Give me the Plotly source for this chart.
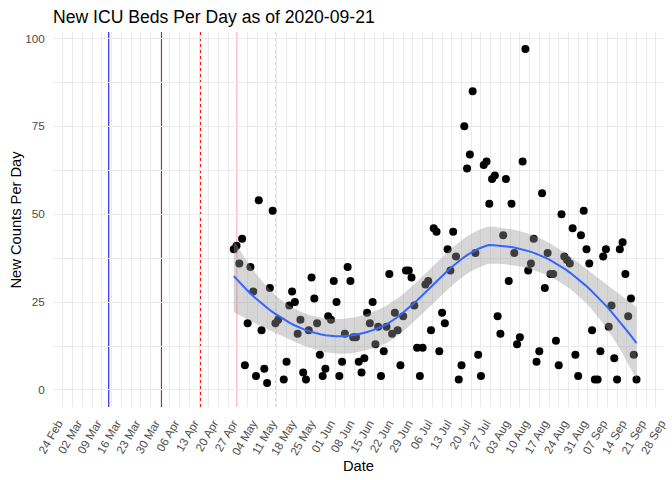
import numpy as np
import pandas as pd
import plotly.graph_objects as go

# daily new ICU beds, first day 2020-04-29, last day 2020-09-21 (None = no point)
START_DATE = "2020-04-29"
NEW_ICU_BEDS = [
    40, 41, 36, 43, 7, 19, 35, 28, 4, 54,
    17, 6, 2, 29, 51, 19, 20, None, 3, 8,
    24, 28, 25, 16, 20, 5, 3, 17, 32, 26,
    19, 10, 4, 6, 21, 20, 31, 25, 4, 8,
    16, 35, 31, 15, 15, 8, 5, 9, 22, 19,
    25, 13, 18, 4, 11, 18, 33, 16, 22, 17,
    7, 21, 34, 34, 32, 24, 12, 4, 12, 30,
    31, 17, 46, 45, 11, 22, 19, 40, 34, 45,
    38, 3, 7, 75, 63, 67, 85, 39, 10, 4,
    64, 65, 53, 60, 61, 21, 16, 44, 60, 31,
    53, 39, 13, 15, 65, 97, 34, 36, 43, 8,
    11, 56, 29, 39, 33, 33, 14, 7, 50, 38,
    37, 36, 46, 10, 4, 44, 51, 40, 36, 17,
    3, 3, 11, 38, 40, 18, 24, 9, 3, 40,
    42, 33, 21, 26, 10, 3,
]

# reference lines
VLINE_DATES = ["2020-03-15", "2020-04-03", "2020-04-17", "2020-04-30", "2020-05-14"]
VLINE_COLORS = ["blue", "red", "red", "pink", "pink"]
VLINE_DASH = ["solid", "solid", "dot", "solid", "dot"]

Y_TICKS = [0, 25, 50, 75, 100]

TITLE = "New ICU Beds Per Day as of 2020-09-21"


def loess_fit(x, y, x_new, span=0.75):
    """Local quadratic regression with tricube weights (like R's loess)."""
    n = len(x)
    q = int(np.floor(n * span))

    def weights_row(x0):
        d = np.abs(x - x0)
        h = np.sort(d)[q - 1]
        u = np.clip(d / h, 0, 1)
        w = (1 - u ** 3) ** 3
        X = np.column_stack([np.ones(n), x - x0, (x - x0) ** 2])
        XtW = X.T * w
        return np.linalg.solve(XtW @ X, XtW)[0]

    L = np.array([weights_row(v) for v in x])
    resid = y - L @ y
    M = np.eye(n) - L
    MtM = M.T @ M
    delta1 = np.trace(MtM)
    delta2 = np.trace(MtM @ MtM)
    s = np.sqrt(np.sum(resid ** 2) / delta1)
    df = delta1 ** 2 / delta2
    z = 1.959964
    t = z + (z ** 3 + z) / (4 * df)

    Ln = np.array([weights_row(v) for v in x_new])
    fit = Ln @ y
    se = s * np.sqrt(np.sum(Ln ** 2, axis=1))
    return fit, fit - t * se, fit + t * se


dates = pd.date_range(START_DATE, periods=len(NEW_ICU_BEDS), freq="D")
df = pd.DataFrame({"date": dates, "beds": NEW_ICU_BEDS}).dropna()
df["beds"] = df["beds"].astype(float)

day0 = pd.Timestamp(START_DATE)
xd = (df["date"] - day0).dt.days.to_numpy(dtype=float)
yv = df["beds"].to_numpy()
grid = np.linspace(xd.min(), xd.max(), 80)
fit, lo, hi = loess_fit(xd, yv, grid)
grid_dates = day0 + pd.to_timedelta(grid, unit="D")

fig = go.Figure()

fig.add_trace(go.Scatter(
    x=df["date"], y=df["beds"], mode="markers",
    marker=dict(color="black", size=8),
    showlegend=False,
))

fig.add_trace(go.Scatter(
    x=list(grid_dates) + list(grid_dates[::-1]),
    y=list(hi) + list(lo[::-1]),
    fill="toself", fillcolor="rgba(153,153,153,0.4)",
    line=dict(width=0), mode="lines",
    showlegend=False, hoverinfo="skip",
))

fig.add_trace(go.Scatter(
    x=grid_dates, y=fit, mode="lines",
    line=dict(color="#3366FF", width=2),
    showlegend=False,
))

for d, c, dash in zip(VLINE_DATES, VLINE_COLORS, VLINE_DASH):
    fig.add_shape(
        type="line", xref="x", yref="paper",
        x0=d, x1=d, y0=0, y1=1,
        line=dict(color=c, width=1, dash=dash),
        layer="below",
    )

week_ms = 7 * 86400000
grid_col = "#EBEBEB"
tick_font = dict(family="Arial, Liberation Sans, sans-serif", size=11.7, color="#4D4D4D")

fig.update_layout(
    width=672, height=480,
    margin=dict(l=53, r=9, t=32, b=73, autoexpand=False),
    plot_bgcolor="white", paper_bgcolor="white",
    font=dict(family="Arial, Liberation Sans, sans-serif", color="black"),
    title=dict(
        text=TITLE, x=53 / 672, xanchor="left", xref="container",
        y=1 - 16.5 / 480, yanchor="middle", yref="container",
        font=dict(size=17.6, color="black"), automargin=False,
    ),
    xaxis=dict(
        type="date", automargin=False,
        range=["2020-02-23 22:00", "2020-09-30 13:00"],
        tick0="2020-02-24", dtick=week_ms, tickformat="%d %b",
        tickangle=-60, tickfont=tick_font, ticklabelshift=5,
        ticks="outside", ticklen=4, tickcolor="rgba(0,0,0,0)",
        showgrid=True, gridcolor=grid_col, gridwidth=1,
        minor=dict(tick0="2020-02-24", dtick=week_ms / 2, showgrid=True,
                   gridcolor=grid_col, gridwidth=0.8),
        zeroline=False, showline=False,
    ),
    yaxis=dict(
        range=[-4.85, 101.85], automargin=False,
        tickvals=Y_TICKS, tickfont=tick_font,
        ticks="outside", ticklen=5, tickcolor="rgba(0,0,0,0)",
        showgrid=True, gridcolor=grid_col, gridwidth=1,
        minor=dict(tick0=0, dtick=12.5, showgrid=True,
                   gridcolor=grid_col, gridwidth=0.8),
        zeroline=False, showline=False,
    ),
    annotations=[
        dict(text="Date", xref="paper", yref="paper", x=0.5, y=(407 - 466) / 375,
             xanchor="center", yanchor="middle", showarrow=False,
             font=dict(size=14.7, color="black")),
        dict(text="New Counts Per Day", xref="paper", yref="paper",
             x=(15 - 53) / 610, y=0.5, textangle=-90,
             xanchor="center", yanchor="middle", showarrow=False,
             font=dict(size=14.7, color="black")),
    ],
)

# the page keeps a default body margin; drop it so the figure fills the window
fig.write_html(
    "out.html",
    config={"displayModeBar": False},
    post_script="document.body.style.margin='0px';",
)
